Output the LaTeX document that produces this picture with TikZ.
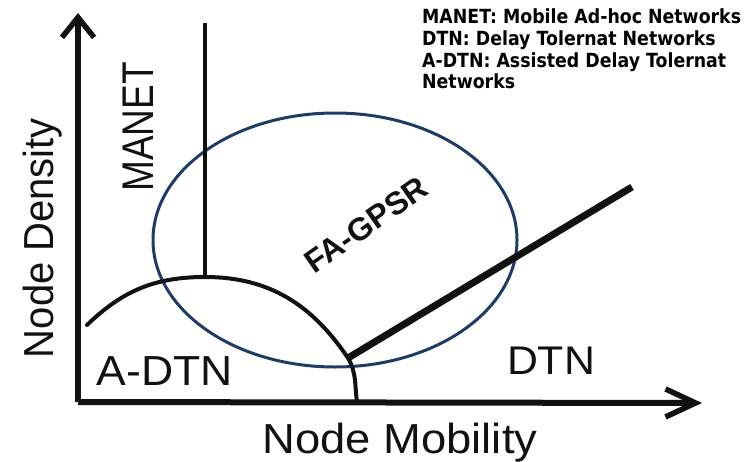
\documentclass[tikz,border=0pt]{standalone}
\usepackage{fontspec}
\setmainfont{Liberation Sans}
\newfontfamily\legendfont{DejaVu Sans}
\usetikzlibrary{arrows.meta}
\definecolor{ringblue}{HTML}{1E3C64}
\definecolor{inkblack}{HTML}{111111}
\tikzset{
  axisline/.style={line width=6pt, draw=inkblack},
  boundary/.style={line width=4pt, draw=inkblack},
  region/.style={inner sep=0pt, text=inkblack, anchor=base},
  legendline/.style={inner sep=0pt, anchor=base west, text=black,
    xscale=0.89, font=\legendfont\bfseries\fontsize{19.5}{22}\selectfont},
}
\begin{document}
\begin{tikzpicture}[x=1pt, y=-1pt]
\useasboundingbox (0,0) rectangle (750,461);

% axes
\coordinate (O) at (78,402);
\coordinate (Ytip) at (78,13);
\coordinate (Xtip) at (702,403);
\draw[axisline, -{Straight Barb[length=20pt,width=32pt,line width=5.5pt]}] (O) -- (Ytip);
\draw[axisline, -{Straight Barb[length=30pt,width=28pt,line width=5.5pt]}] (O) -- (Xtip);

% FA-GPSR operating region
\coordinate (ring) at (335,240);
\draw[ringblue, line width=3pt] (ring) ellipse [x radius=182, y radius=127];

% boundary between MANET and A-DTN
\coordinate (Mtop) at (205,23);
\coordinate (Apeak) at (205,277);
\draw[boundary, line width=4.5pt] (Mtop) -- (Apeak);

% A-DTN boundary arc
\coordinate (Aleft) at (87,325);
\coordinate (Ameet) at (348,358);
\coordinate (Abase) at (357,402);
\draw[boundary, line cap=round]
  (Aleft) to[out=44, in=180] (Apeak) to[out=0, in=124] (Ameet) to[out=-60, in=98] (Abase);

% DTN boundary
\coordinate (Dend) at (632,187);
\draw[boundary, line width=7pt] (Ameet) -- (Dend);

% axis and region labels
\node[region, font=\fontsize{42}{48}\selectfont, xscale=1.08] (xlab) at (400,453) {Node Mobility};
\node[region, font=\fontsize{40}{46}\selectfont, rotate=90, yscale=1.05] (ylab) at (53,238) {Node Density};
\node[region, font=\fontsize{37}{44}\selectfont, rotate=90, yscale=1.2] (manet) at (153,127) {MANET};
\node[region, font=\fontsize{42}{48}\selectfont, xscale=1.06] (adtn) at (165,385) {A-DTN};
\node[region, font=\fontsize{40}{46}\selectfont, xscale=1.07] (dtn) at (551,374) {DTN};
\node[inner sep=0pt, text=inkblack, font=\bfseries\fontsize{32}{38}\selectfont, rotate=35] (fagpsr) at (366,225) {FA-GPSR};

% legend
\node[legendline] (leg1) at (422,23) {MANET: Mobile Ad-hoc Networks};
\node[legendline] (leg2) at (422,45) {DTN: Delay Tolernat Networks};
\node[legendline] (leg3) at (422,67) {A-DTN: Assisted Delay Tolernat};
\node[legendline] (leg4) at (422,88) {Networks};
\end{tikzpicture}
\end{document}
